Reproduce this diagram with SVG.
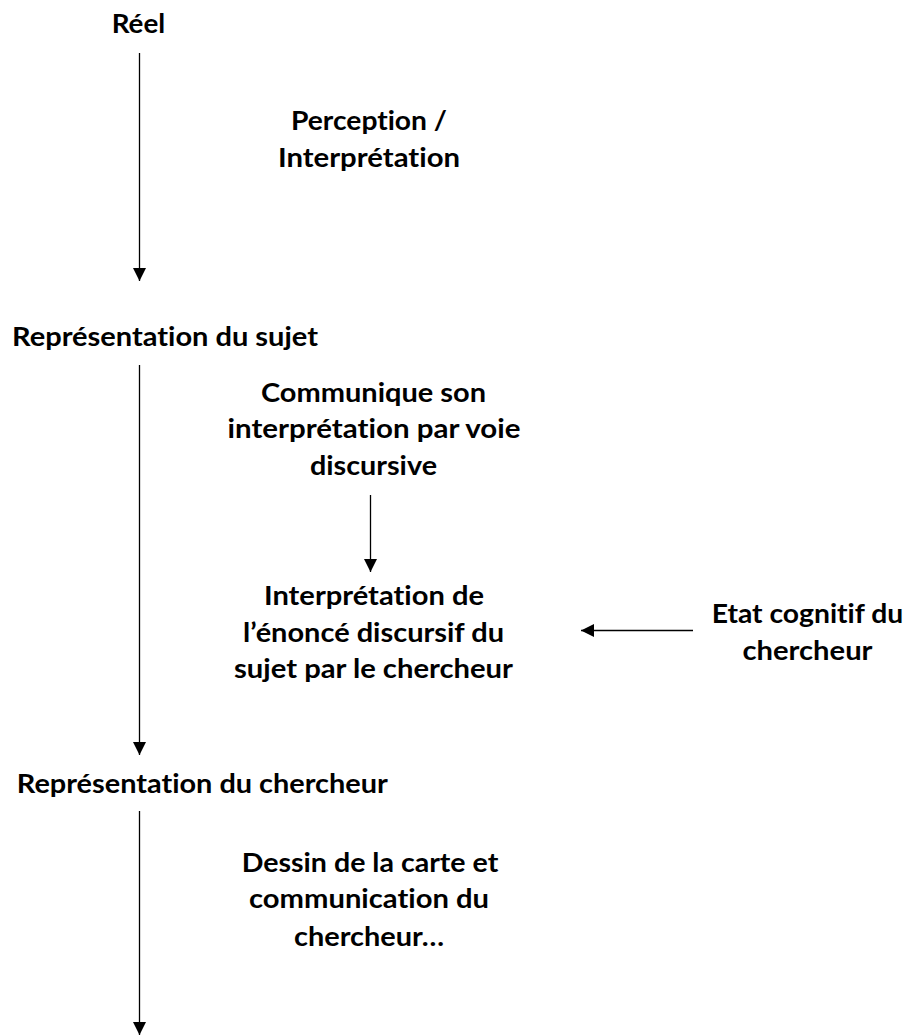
<svg xmlns="http://www.w3.org/2000/svg" width="909" height="1036" viewBox="0 0 909 1036">
  <style>
    text { font-family: "Lato", "Open Sans", "Liberation Sans", sans-serif; font-weight: bold; font-size: 26px; fill: #000; text-anchor: middle; font-variant-ligatures: none; }
    .conn { stroke: #000; stroke-width: 1.3; fill: none; marker-end: url(#arrow); }
  </style>
  <defs>
    <marker id="arrow" markerUnits="userSpaceOnUse" markerWidth="13" markerHeight="13" refX="13" refY="6.5" orient="auto">
      <path d="M0,0 L13,6.5 L0,13 z" fill="#000"/>
    </marker>
  </defs>
  <rect width="909" height="1036" fill="#fff"/>

  <g id="connectors">
    <line class="conn" x1="139.5" y1="53" x2="139.5" y2="281"/>
    <line class="conn" x1="139.5" y1="365" x2="139.5" y2="755"/>
    <line class="conn" x1="370.5" y1="495" x2="370.5" y2="572"/>
    <line class="conn" x1="693" y1="630.5" x2="581" y2="630.5"/>
    <line class="conn" x1="139.5" y1="811" x2="139.5" y2="1035"/>
  </g>

  <g id="node-reel">
    <text x="138.4" y="32.5" textLength="53.5" lengthAdjust="spacingAndGlyphs">Réel</text>
  </g>
  <g id="label-perception">
    <text x="369" y="130" textLength="156" lengthAdjust="spacingAndGlyphs">Perception /</text>
    <text x="369" y="167" textLength="182" lengthAdjust="spacingAndGlyphs">Interprétation</text>
  </g>
  <g id="node-representation-sujet">
    <text x="165" y="346" textLength="306" lengthAdjust="spacingAndGlyphs">Représentation du sujet</text>
  </g>
  <g id="node-communique">
    <text x="373.5" y="401.7" textLength="225" lengthAdjust="spacingAndGlyphs">Communique son</text>
    <text x="374" y="438" textLength="293" lengthAdjust="spacingAndGlyphs">interprétation par voie</text>
    <text x="373.5" y="475" textLength="127" lengthAdjust="spacingAndGlyphs">discursive</text>
  </g>
  <g id="node-interpretation-enonce">
    <text x="374" y="605" textLength="220" lengthAdjust="spacingAndGlyphs">Interprétation de</text>
    <text x="373.5" y="641.7" textLength="261" lengthAdjust="spacingAndGlyphs">l’énoncé discursif du</text>
    <text x="373.5" y="678" textLength="279" lengthAdjust="spacingAndGlyphs">sujet par le chercheur</text>
  </g>
  <g id="node-etat-cognitif">
    <text x="807.5" y="623" textLength="191.6" lengthAdjust="spacingAndGlyphs">Etat cognitif du</text>
    <text x="807.5" y="660" textLength="130" lengthAdjust="spacingAndGlyphs">chercheur</text>
  </g>
  <g id="node-representation-chercheur">
    <text x="202.3" y="793" textLength="371" lengthAdjust="spacingAndGlyphs">Représentation du chercheur</text>
  </g>
  <g id="label-dessin">
    <text x="370" y="871.7" textLength="256.6" lengthAdjust="spacingAndGlyphs">Dessin de la carte et</text>
    <text x="369" y="908" textLength="240" lengthAdjust="spacingAndGlyphs">communication du</text>
    <text x="369" y="946" textLength="150" lengthAdjust="spacingAndGlyphs">chercheur…</text>
  </g>
</svg>
